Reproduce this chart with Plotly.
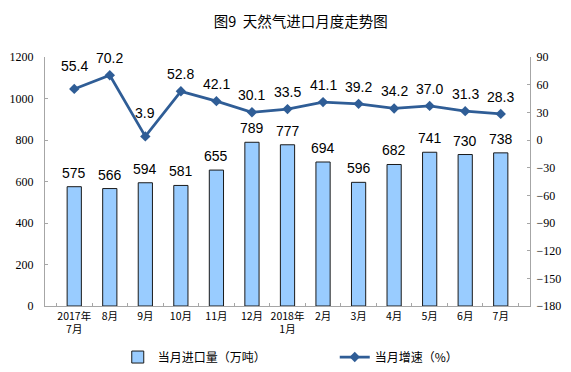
import plotly.graph_objects as go

categories = ["2017年<br>7月", "8月", "9月", "10月", "11月", "12月", "2018年<br>1月",
              "2月", "3月", "4月", "5月", "6月", "7月"]
import_volume = [575, 566, 594, 581, 655, 789, 777, 694, 596, 682, 741, 730, 738]
growth_rate = [55.4, 70.2, 3.9, 52.8, 42.1, 30.1, 33.5, 41.1, 39.2, 34.2, 37.0, 31.3, 28.3]

LINE_COLOR = "#2F5D96"
LABEL_FONT = dict(family="Liberation Sans", size=14, color="#000")

fig = go.Figure()
fig.add_trace(go.Bar(
    x=categories, y=import_volume, name="当月进口量（万吨）",
    marker=dict(color="#99CCFF", line=dict(color="#1a1a1a", width=1)),
    cliponaxis=False, width=0.4,
))
fig.add_trace(go.Scatter(
    x=categories, y=growth_rate, name="当月增速（%）", yaxis="y2",
    mode="lines+markers",
    line=dict(color=LINE_COLOR, width=2.75),
    marker=dict(symbol="diamond", size=8, color=LINE_COLOR),
    cliponaxis=False,
))

# bar value labels
for c, v in zip(categories, import_volume):
    fig.add_annotation(x=c, y=v, xref="x", yref="y", text=str(v),
                       showarrow=False, yanchor="middle", yshift=14, font=LABEL_FONT)

# line value labels (a couple sit higher to clear the line, as in the original)
for i, (c, v) in enumerate(zip(categories, growth_rate)):
    lift = 23 if i in (0, 2) else 17
    fig.add_annotation(x=c, y=v, xref="x", yref="y2", text=f"{v:.1f}",
                       showarrow=False, yanchor="middle", yshift=lift, font=LABEL_FONT)

# the page body has an 8px default margin, so the figure is sized/offset to compensate
fig.update_layout(
    width=563, height=364,
    margin=dict(l=37, r=41, t=49, b=66, autoexpand=False),
    paper_bgcolor="white", plot_bgcolor="white",
    showlegend=True,
    title=dict(text="图9  天然气进口月度走势图", x=0.52, xanchor="center", y=0.962, yanchor="middle",
               font=dict(family="Noto Sans CJK SC", size=14.5, color="#000")),
    font=dict(family="Noto Sans CJK SC", color="#000"),
    xaxis=dict(
        type="category", showline=True, linecolor="#A6A6A6", linewidth=1,
        ticks="inside", ticklen=3, tickcolor="#A6A6A6", tickson="boundaries",
        tickfont=dict(family="Noto Sans CJK SC", size=10.5, color="#000"),
        showgrid=False, zeroline=False, tickangle=0, automargin=False,
    ),
    yaxis=dict(
        range=[0, 1200], dtick=200, showline=True, linecolor="#A6A6A6", linewidth=1,
        ticks="inside", ticklen=3, tickcolor="#A6A6A6",
        tickfont=dict(family="Liberation Serif", size=12, color="#000"),
        showgrid=False, zeroline=False, ticklabelstandoff=8, automargin=False,
    ),
    yaxis2=dict(
        range=[-180, 90], dtick=30, overlaying="y", side="right",
        showline=True, linecolor="#A6A6A6", linewidth=1,
        ticks="inside", ticklen=3, tickcolor="#A6A6A6",
        tickfont=dict(family="Liberation Serif", size=12, color="#000"),
        showgrid=False, zeroline=False, ticklabelstandoff=3, automargin=False,
    ),
    legend=dict(orientation="h", x=0.15, xanchor="left", y=-0.205, yanchor="middle",
                font=dict(family="Noto Sans CJK SC", size=12, color="#000"),
                entrywidth=172, bgcolor="rgba(0,0,0,0)"),
)

fig.write_html("out.html")
